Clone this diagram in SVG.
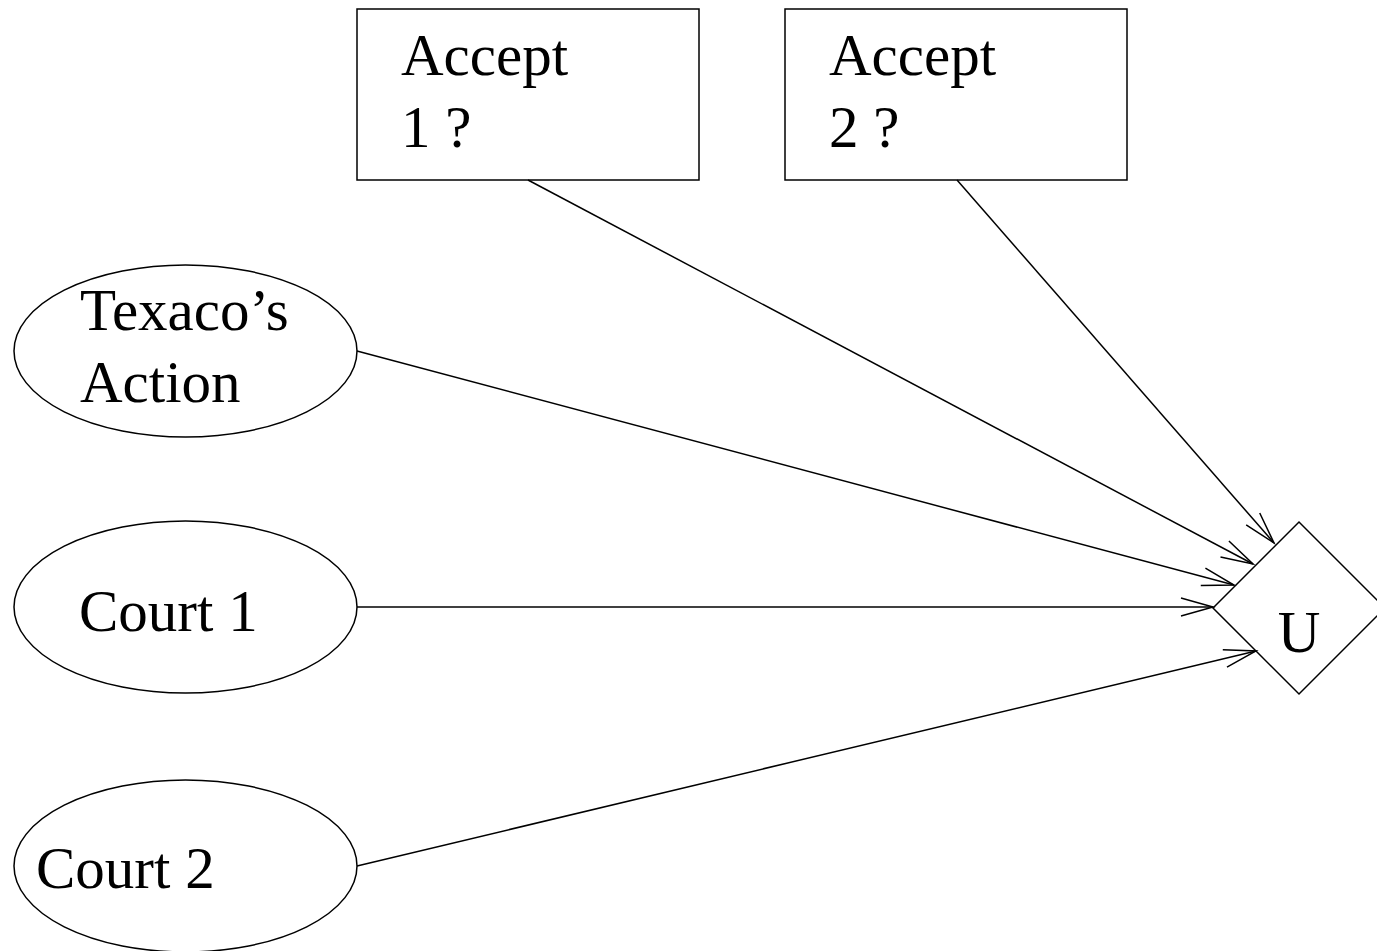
<svg xmlns="http://www.w3.org/2000/svg" width="1377" height="951" viewBox="0 0 1377 951">
<style>
.shape{fill:none;stroke:#000;stroke-width:1.5}
.lbl{font-family:"Liberation Serif","Times New Roman",serif;font-size:59px;fill:#000}
.edge{fill:none;stroke:#000;stroke-width:1.5}
</style>
<defs>
<marker id="arr" markerUnits="userSpaceOnUse" markerWidth="40" markerHeight="24" refX="34" refY="12" orient="auto">
<path d="M2,3 L34,12 L2,21" fill="none" stroke="#000" stroke-width="1.5"/>
</marker>
</defs>
<rect width="1377" height="951" fill="#fff"/>
<g id="accept1">
<rect class="shape" x="357" y="9" width="342" height="171"/>
<text class="lbl" x="401" y="75">Accept</text>
<text class="lbl" x="401" y="147">1 ?</text>
</g>
<g id="accept2">
<rect class="shape" x="785" y="9" width="342" height="171"/>
<text class="lbl" x="829" y="75">Accept</text>
<text class="lbl" x="829" y="147">2 ?</text>
</g>
<g id="texaco">
<ellipse class="shape" cx="185.5" cy="351" rx="171.5" ry="86"/>
<text class="lbl" x="80" y="330">Texaco’s</text>
<text class="lbl" x="80" y="402">Action</text>
</g>
<g id="court1">
<ellipse class="shape" cx="185.5" cy="607" rx="171.5" ry="86"/>
<text class="lbl" x="79" y="631">Court 1</text>
</g>
<g id="court2">
<ellipse class="shape" cx="185.5" cy="866" rx="171.5" ry="86"/>
<text class="lbl" x="36" y="888">Court 2</text>
</g>
<g id="u">
<polygon class="shape" points="1213,608 1299,522 1385,608 1299,694"/>
<text class="lbl" x="1299" y="652" text-anchor="middle">U</text>
</g>
<g id="connectors">
<line class="edge" x1="528" y1="180" x2="1253" y2="564" marker-end="url(#arr)"/>
<line class="edge" x1="957" y1="180" x2="1274" y2="543" marker-end="url(#arr)"/>
<line class="edge" x1="357" y1="351" x2="1234" y2="585" marker-end="url(#arr)"/>
<line class="edge" x1="357" y1="607" x2="1213" y2="607" marker-end="url(#arr)"/>
<line class="edge" x1="357" y1="866" x2="1256" y2="651" marker-end="url(#arr)"/>
</g>
</svg>
